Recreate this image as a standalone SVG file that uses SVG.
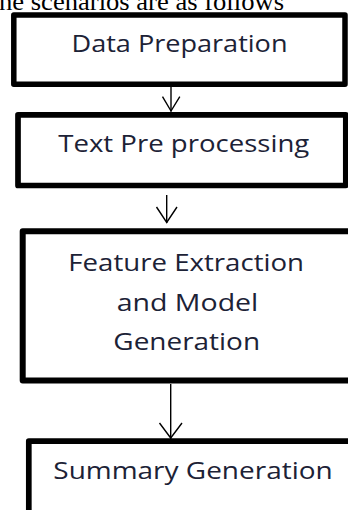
<svg xmlns="http://www.w3.org/2000/svg" width="348" height="510" viewBox="0 0 348 510">
<style>
.box{fill:#ffffff;stroke:#000000;stroke-linejoin:round}
.lbl{font-family:"Open Sans","Noto Sans","Liberation Sans",sans-serif;font-size:24px;fill:#1c2236;text-anchor:middle}
.cap{font-family:"Liberation Serif","Times New Roman",serif;font-size:26px;fill:#000000}
.conn line,.conn polyline{fill:none;stroke:#000000;stroke-width:1.4}
</style>
<rect width="348" height="510" fill="#ffffff"/>
<text class="cap" x="-1" y="9.5" textLength="285" lengthAdjust="spacingAndGlyphs">he scenarios are as follows</text>
<g id="node-data-preparation">
<rect class="box" x="13.8" y="15" width="331.2" height="69.3" stroke-width="5.5"/>
<text class="lbl" x="179.5" y="51.7" textLength="216" lengthAdjust="spacingAndGlyphs">Data Preparation</text>
</g>
<g id="node-text-preprocessing">
<rect class="box" x="18" y="114.8" width="327.8" height="70.7" stroke-width="5.7"/>
<text class="lbl" x="183.8" y="151.7" textLength="251" lengthAdjust="spacingAndGlyphs">Text Pre processing</text>
</g>
<g id="node-feature-extraction">
<rect class="box" x="22.7" y="231.2" width="340" height="149.3" stroke-width="6"/>
<text class="lbl" x="186.2" y="270.7" textLength="235.7" lengthAdjust="spacingAndGlyphs">Feature Extraction</text>
<text class="lbl" x="187.5" y="311" textLength="141.6" lengthAdjust="spacingAndGlyphs">and Model</text>
<text class="lbl" x="186.7" y="350" textLength="146.7" lengthAdjust="spacingAndGlyphs">Generation</text>
</g>
<g id="node-summary-generation">
<rect class="box" x="28.8" y="441.2" width="340" height="100" stroke-width="5.7"/>
<text class="lbl" x="193" y="479.3" textLength="279.4" lengthAdjust="spacingAndGlyphs">Summary Generation</text>
</g>
<g id="connectors" class="conn">
<line x1="171" y1="87" x2="171" y2="111.5"/>
<polyline points="162.5,96.7 171,111 179.8,96.7"/>
<line x1="166.7" y1="195" x2="166.7" y2="223"/>
<polyline points="156.5,207 166.7,222.5 177,207"/>
<line x1="170.7" y1="384" x2="170.7" y2="439"/>
<polyline points="159.5,423 170.7,438 182,423"/>
</g>
</svg>
